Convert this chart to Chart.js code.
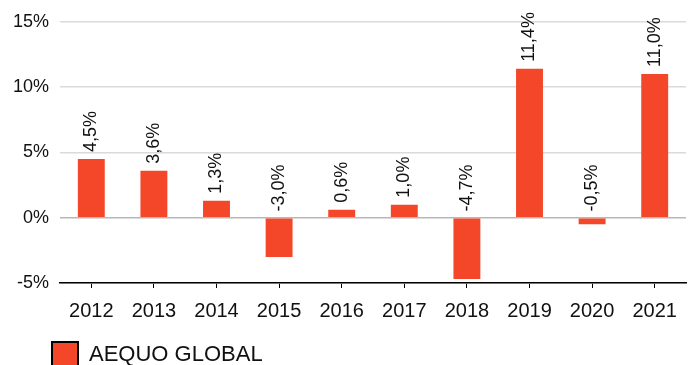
<!DOCTYPE html>
<html lang="en">
<head>
    <meta charset="UTF-8">
    <title>AEQUO GLOBAL - annual returns</title>
    <script src="https://cdn.jsdelivr.net/npm/chart.js"></script>
    <style>
        body { margin: 0; background: #fff; }
    </style>
</head>
<body>
    <canvas id="myChart" width="688" height="365"></canvas>

    <script>
        const years = ['2012', '2013', '2014', '2015', '2016', '2017', '2018', '2019', '2020', '2021'];
        const returns = [4.5, 3.6, 1.3, -3.0, 0.6, 1.0, -4.7, 11.4, -0.5, 11.0];
        const yTicks = [-5, 0, 5, 10, 15];

        const barColor = '#f44729';
        const textColor = '#111';
        const fontFamily = '"Liberation Sans", Arial, sans-serif';

        const fmt = v => v.toFixed(1).replace('.', ',') + '%';

        // Rotated value text above each bar (above the zero line for negatives)
        const valueLabels = {
            id: 'valueLabels',
            afterDatasetsDraw(chart) {
                const ctx = chart.ctx;
                const meta = chart.getDatasetMeta(0);
                const data = chart.data.datasets[0].data;
                ctx.save();
                ctx.font = '18px ' + fontFamily;
                ctx.fillStyle = textColor;
                ctx.textAlign = 'left';
                ctx.textBaseline = 'middle';
                meta.data.forEach((bar, i) => {
                    const top = Math.min(bar.y, bar.base);
                    ctx.save();
                    ctx.translate(bar.x, top - 7);
                    ctx.rotate(-Math.PI / 2);
                    ctx.fillText(fmt(data[i]), 0, 0);
                    ctx.restore();
                });
                ctx.restore();
            }
        };

        // Legend sits in line with the plot, not at the canvas edge
        const legendIndent = {
            id: 'legendIndent',
            afterLayout(chart) {
                if (chart.legend) {
                    chart.legend.left += 44;
                }
            }
        };

        new Chart(document.getElementById('myChart'), {
            type: 'bar',
            data: {
                labels: years,
                datasets: [{
                    label: 'AEQUO GLOBAL',
                    data: returns,
                    backgroundColor: barColor,
                    borderWidth: 0,
                    categoryPercentage: 1,
                    barPercentage: 0.43
                }]
            },
            options: {
                responsive: false,
                animation: false,
                layout: {
                    padding: { top: 16, left: 0, right: 1, bottom: -13 }
                },
                scales: {
                    x: {
                        grid: {
                            offset: false,
                            drawOnChartArea: false,
                            drawTicks: true,
                            tickLength: 5,
                            color: '#000'
                        },
                        border: { color: '#000', width: 1.5 },
                        ticks: {
                            color: textColor,
                            padding: 11,
                            font: { family: fontFamily, size: 20 }
                        }
                    },
                    y: {
                        min: -5,
                        max: 15,
                        afterFit(scale) { scale.width = 60; },
                        afterBuildTicks(scale) {
                            scale.ticks = yTicks.map(v => ({ value: v }));
                        },
                        grid: {
                            drawTicks: false,
                            lineWidth: 1.5,
                            color: c => c.tick && c.tick.value === 0 ? '#b8b8b8' : '#dadada'
                        },
                        border: { display: false },
                        ticks: {
                            color: textColor,
                            padding: 11,
                            font: { family: fontFamily, size: 18 },
                            callback: v => v + '%'
                        }
                    }
                },
                plugins: {
                    tooltip: { enabled: false },
                    legend: {
                        position: 'bottom',
                        align: 'start',
                        labels: {
                            boxWidth: 26,
                            boxHeight: 26,
                            padding: 8,
                            color: textColor,
                            font: { family: fontFamily, size: 22 },
                            generateLabels(chart) {
                                const items = Chart.defaults.plugins.legend.labels.generateLabels(chart);
                                return items.map(item => Object.assign(item, { lineWidth: 2, strokeStyle: '#000' }));
                            }
                        }
                    }
                }
            },
            plugins: [valueLabels, legendIndent]
        });
    </script>
</body>
</html>
